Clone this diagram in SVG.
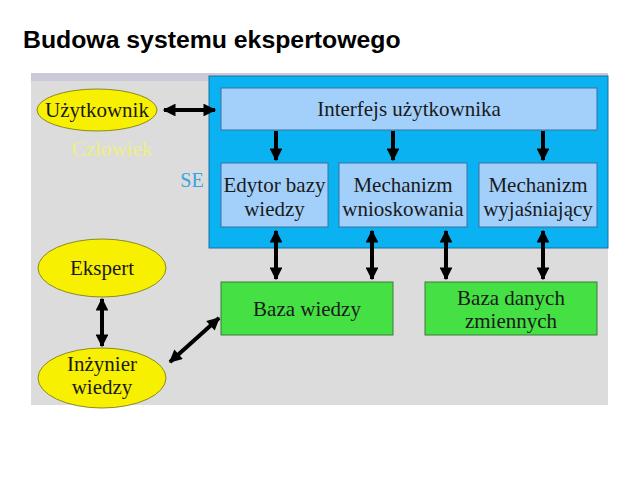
<svg xmlns="http://www.w3.org/2000/svg" width="640" height="480" viewBox="0 0 640 480">
<defs>
<style>
.serif{font-family:"Liberation Serif","Times New Roman",serif;fill:#1a1a1a;font-size:21px;}
.blue{fill:#a3d0fa;stroke:#3b6fa0;stroke-width:1;}
.green{fill:#44e044;stroke:#3a7a3a;stroke-width:1;}
.ell{fill:#f7f000;stroke:#8a8a20;stroke-width:1;}
.con{stroke:#000;stroke-width:4;fill:none;}
</style>
<marker id="ah" viewBox="0 0 10 10" refX="9" refY="5" markerWidth="3.5" markerHeight="3.2" orient="auto-start-reverse" markerUnits="strokeWidth">
<path d="M0,0 L10,5 L0,10 z" fill="#000"/>
</marker>
</defs>
<rect width="640" height="480" fill="#fff"/>
<text x="23" y="48" font-family="Liberation Sans, Arial, sans-serif" font-size="24.8" font-weight="bold" fill="#000">Budowa systemu ekspertowego</text>
<rect x="31" y="73" width="577" height="332" fill="#dcdcdc"/>
<rect x="31" y="73" width="577" height="8" fill="#c9c9d8"/>
<g id="se">
<rect x="209" y="76" width="399" height="172" fill="#0ab2f2" stroke="#1a6fa0" stroke-width="1"/>
<text x="192" y="187" font-family="Liberation Serif, serif" font-size="20" fill="#3aa4e0" text-anchor="middle">SE</text>
</g>
<g id="interfejs"><rect class="blue" x="221" y="88" width="376" height="42"/><text class="serif" x="409" y="116" text-anchor="middle">Interfejs użytkownika</text></g>
<g id="edytor"><rect class="blue" x="221" y="163" width="107" height="64"/><text class="serif" x="274.5" y="192" text-anchor="middle">Edytor bazy</text><text class="serif" x="274.5" y="216" text-anchor="middle">wiedzy</text></g>
<g id="wnioskowanie"><rect class="blue" x="339" y="163" width="128" height="64"/><text class="serif" x="403" y="192" text-anchor="middle">Mechanizm</text><text class="serif" x="403" y="216" text-anchor="middle">wnioskowania</text></g>
<g id="wyjasnianie"><rect class="blue" x="479" y="163" width="118" height="64"/><text class="serif" x="538" y="192" text-anchor="middle">Mechanizm</text><text class="serif" x="538" y="216" text-anchor="middle">wyjaśniający</text></g>
<g id="bazawiedzy"><rect class="green" x="221" y="282" width="172" height="53"/><text class="serif" x="307" y="316" text-anchor="middle">Baza wiedzy</text></g>
<g id="bazadanych"><rect class="green" x="425" y="282" width="172" height="53"/><text class="serif" x="511" y="305" text-anchor="middle">Baza danych</text><text class="serif" x="511" y="328" text-anchor="middle">zmiennych</text></g>
<g id="uzytkownik"><ellipse class="ell" cx="97" cy="110" rx="60" ry="21"/><text class="serif" x="97" y="117" text-anchor="middle">Użytkownik</text></g>
<g id="czlowiek"><text x="112" y="156" font-family="Liberation Serif, serif" font-size="21" fill="#eeee88" text-anchor="middle">Człowiek</text></g>
<g id="ekspert"><ellipse class="ell" cx="102" cy="268" rx="64" ry="29"/><text class="serif" x="102" y="275" text-anchor="middle">Ekspert</text></g>
<g id="inzynier"><ellipse class="ell" cx="102" cy="378" rx="64" ry="30"/><text class="serif" x="102" y="371" text-anchor="middle">Inżynier</text><text class="serif" x="102" y="394" text-anchor="middle">wiedzy</text></g>
<g id="connectors">
<line class="con" x1="164" y1="110" x2="215" y2="110" marker-start="url(#ah)" marker-end="url(#ah)"/>
<line class="con" x1="276" y1="131" x2="276" y2="160" marker-end="url(#ah)"/>
<line class="con" x1="393" y1="131" x2="393" y2="160" marker-end="url(#ah)"/>
<line class="con" x1="543" y1="131" x2="543" y2="160" marker-end="url(#ah)"/>
<line class="con" x1="276" y1="231" x2="276" y2="279" marker-start="url(#ah)" marker-end="url(#ah)"/>
<line class="con" x1="372" y1="231" x2="372" y2="279" marker-start="url(#ah)" marker-end="url(#ah)"/>
<line class="con" x1="446" y1="231" x2="446" y2="279" marker-start="url(#ah)" marker-end="url(#ah)"/>
<line class="con" x1="543" y1="231" x2="543" y2="279" marker-start="url(#ah)" marker-end="url(#ah)"/>
<line class="con" x1="102" y1="299" x2="102" y2="346" marker-start="url(#ah)" marker-end="url(#ah)"/>
<line class="con" x1="170" y1="362" x2="219" y2="318" marker-start="url(#ah)" marker-end="url(#ah)"/>
</g>
</svg>
